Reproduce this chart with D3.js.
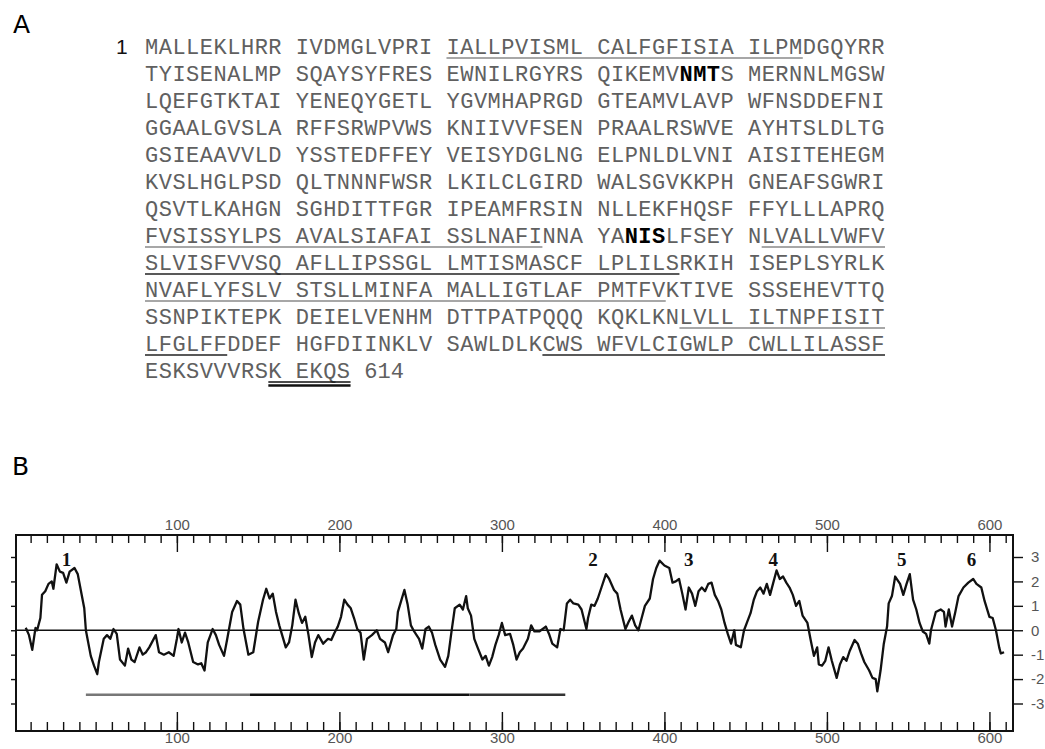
<!DOCTYPE html>
<html>
<head>
<meta charset="utf-8">
<script src="https://cdn.jsdelivr.net/npm/d3@7"></script>
<style>
  body { margin: 0; background: #fff; }
  svg text { font-family: "Liberation Sans", Arial, sans-serif; }
  .seq { font-family: "Liberation Mono", "Courier New", monospace; font-size: 22px; fill: #606060; }
  .seq.bold { font-weight: bold; fill: #000; }
  .axis text { fill: #555; font-size: 15px; }
  .axis line { stroke: #111; stroke-width: 1.4; }
</style>
</head>
<body>
<svg id="fig" width="1045" height="749"></svg>
<script>
// panel A: sequence, 50 residues per row
const seqRows = [
  "MALLEKLHRRIVDMGLVPRIIALLPVISMLCALFGFISIAILPMDGQYRR",
  "TYISENALMPSQAYSYFRESEWNILRGYRSQIKEMVNMTSMERNNLMGSW",
  "LQEFGTKTAIYENEQYGETLYGVMHAPRGDGTEAMVLAVPWFNSDDEFNI",
  "GGAALGVSLARFFSRWPVWSKNIIVVFSENPRAALRSWVEAYHTSLDLTG",
  "GSIEAAVVLDYSSTEDFFEYVEISYDGLNGELPNLDLVNIAISITEHEGM",
  "KVSLHGLPSDQLTNNNFWSRLKILCLGIRDWALSGVKKPHGNEAFSGWRI",
  "QSVTLKAHGNSGHDITTFGRIPEAMFRSINNLLEKFHQSFFFYLLLAPRQ",
  "FVSISSYLPSAVALSIAFAISSLNAFINNAYANISLFSEYNLVALLVWFV",
  "SLVISFVVSQAFLLIPSSGLLMTISMASCFLPLILSRKIHISEPLSYRLK",
  "NVAFLYFSLVSTSLLMINFAMALLIGTLAFPMTFVKTIVESSSEHEVTTQ",
  "SSNPIKTEPKDEIELVENHMDTTPATPQQQKQKLKNLVLLILTNPFISIT",
  "LFGLFFDDEFHGFDIINKLVSAWLDLKCWSWFVLCIGWLPCWLLILASSF",
  "ESKSVVVRSKEKQS"
];
const seqLength = 614;
// [first, last, shade] of underlined stretches
const tmSpans = [
  [21, 44, "#8a8a8a"], [351, 377, "#8a8a8a"], [392, 400, "#8a8a8a"],
  [401, 436, "#222"], [451, 485, "#8a8a8a"], [537, 550, "#8a8a8a"],
  [551, 556, "#222"], [578, 600, "#222"]
];
const glycoSites = [[87, 89], [383, 385]];
const retentionSignal = [610, 614];

// panel B: hydropathy profile
const residueNo = [
  7, 9, 11, 13, 14, 16, 17, 19, 21, 23,
  24, 26, 28, 30, 32, 34, 37, 39, 41, 43,
  44, 47, 49, 51, 52, 55, 57, 59, 61, 63,
  65, 68, 70, 72, 74, 77, 79, 81, 83, 87,
  89, 92, 95, 98, 100, 101, 103, 105, 107, 110,
  113, 115, 117, 119, 122, 124, 126, 129, 131, 134,
  137, 139, 141, 144, 147, 150, 153, 155, 157, 159,
  161, 163, 167, 169, 171, 173, 175, 177, 179, 181,
  183, 185, 187, 190, 193, 195, 197, 199, 201, 203,
  205, 207, 209, 211, 213, 215, 217, 220, 223, 225,
  228, 230, 233, 235, 236, 238, 240, 242, 244, 246,
  249, 251, 253, 255, 257, 259, 262, 265, 267, 269,
  271, 274, 276, 278, 279, 281, 283, 285, 288, 290,
  292, 294, 296, 298, 300, 302, 305, 307, 309, 311,
  313, 316, 318, 320, 323, 327, 329, 331, 334, 336,
  338, 340, 342, 344, 347, 349, 352, 353, 355, 357,
  359, 361, 364, 366, 369, 371, 373, 376, 378, 380,
  382, 384, 386, 388, 391, 393, 395, 397, 400, 403,
  405, 407, 409, 411, 413, 415, 417, 419, 421, 423,
  425, 427, 429, 431, 433, 435, 437, 439, 441, 443,
  444, 447, 449, 451, 453, 455, 457, 459, 461, 463,
  465, 467, 469, 471, 473, 475, 477, 479, 481, 483,
  485, 488, 490, 492, 494, 495, 497, 499, 501, 503,
  506, 508, 510, 512, 514, 517, 519, 521, 523, 526,
  528, 530, 531, 533, 535, 537, 538, 540, 542, 545,
  547, 549, 551, 553, 555, 557, 559, 561, 563, 564,
  567, 570, 572, 573, 575, 577, 579, 581, 584, 587,
  590, 592, 595, 597, 600, 602, 604, 606, 607, 609
];
const hydropathy = [
  0.1, -0.2, -0.8, 0.1, 0, 0.5, 1.45, 1.6, 1.9, 2.0,
  1.7, 2.7, 2.4, 2.35, 1.95, 2.4, 2.55, 2.3, 1.6, 0.9,
  0, -1.05, -1.45, -1.8, -1.3, -0.35, -0.2, -0.35, 0.05, -0.15,
  -1.2, -1.45, -0.75, -1.2, -1.3, -0.7, -1.0, -0.9, -0.7, -0.2,
  -0.9, -1.0, -0.9, -1.05, -0.35, 0.05, -0.5, -0.1, -0.5, -1.3,
  -1.4, -1.35, -1.65, -0.5, 0.05, -0.2, -0.6, -1.05, -0.35, 0.75,
  1.2, 1.05, 0.05, -1.0, -0.9, 0.35, 1.25, 1.7, 1.3, 1.5,
  0.75, 0.2, -0.7, -0.5, 0.2, 1.25, 0.7, 0.3, 0.55, -0.2,
  -1.1, -0.5, -0.2, -0.55, -0.35, -0.4, -0.1, 0.15, 0.55, 1.25,
  1.05, 0.9, 0.5, 0.05, -0.1, -1.2, -0.35, -0.2, 0, -0.35,
  -0.5, -0.9, -0.2, 0.05, 0.75, 1.2, 1.65, 1.05, 0.2, -0.05,
  -0.35, -0.75, 0.05, 0.15, -0.1, -0.6, -1.2, -1.5, -1.05, -0.05,
  0.9, 1.05, 0.85, 1.4, 0.9, 0.6, -0.35, -0.7, -1.2, -1.05,
  -1.45, -1.1, -0.6, -0.2, 0.3, -0.2, -0.15, -0.6, -1.2, -0.9,
  -0.75, -0.35, 0.2, -0.05, -0.05, 0.15, -0.15, -0.55, -0.7, 0.05,
  0, 1.1, 1.25, 1.1, 1.05, 0.85, 0.05, 0.5, 1.05, 1.0,
  1.3, 1.7, 2.3, 2.1, 1.65, 1.5, 0.85, 0.05, 0.35, 0.6,
  0.2, 0, 0.5, 1.0, 1.3, 2.1, 2.55, 2.85, 2.65, 2.55,
  1.95, 2.0, 2.1, 1.5, 0.85, 1.75, 1.5, 1.0, 1.6, 1.75,
  1.6, 1.9, 1.95, 1.45, 1.2, 0.85, 0.3, -0.15, -0.55, 0,
  -0.6, -0.7, 0, 0.35, 0.7, 1.25, 1.6, 1.75, 1.5, 1.9,
  1.45, 1.95, 2.45, 2.1, 2.2, 1.95, 1.75, 1.45, 1.0, 1.2,
  0.6, 0.3, -0.4, -1.05, -0.7, -1.4, -1.45, -1.25, -0.7, -1.25,
  -1.95, -1.4, -1.1, -1.25, -0.85, -0.4, -0.55, -0.95, -1.3, -1.65,
  -1.95, -2.0, -2.5, -1.65, -0.55, 0.15, 1.1, 1.4, 2.2, 1.9,
  1.45, 1.9, 2.3, 1.25, 0.85, 0.3, -0.05, -0.15, -0.55, 0,
  0.75, 0.85, 0.75, 0.15, 0.85, 0.15, 0.75, 1.4, 1.75, 1.95,
  2.1, 1.9, 1.75, 1.2, 0.55, 0.5, 0, -0.7, -0.95, -0.9
];
const peakNames = ["1", "2", "3", "4", "5", "6"];
const peakResidues = [32, 356, 415, 467, 546, 589];
const barSegments = [[44, 145, "#777"], [145, 280, "#111"], [280, 339, "#333"]];
const barLevel = -2.64;
const hydroTicks = [-3, -2, -1, 0, 1, 2, 3];
const residueLabels = [100, 200, 300, 400, 500, 600];

const svg = d3.select("#fig");

// ---------- panel A ----------
const gA = svg.append("g");
gA.append("text").attr("x", 13).attr("y", 33)
  .style("font-family", "'DejaVu Sans', sans-serif").style("font-size", "25px")
  .text("A");

const colX = d3.scaleLinear().domain([0, 54]).range([145, 885]);
const rowY = d3.scaleLinear().domain([0, 12]).range([54, 378]);

function place(res) {
  const i = (res - 1) % 50;
  return { row: Math.floor((res - 1) / 50), col: i + Math.floor(i / 10) };
}
const isGlyco = res => glycoSites.some(([a, b]) => res >= a && res <= b);

const letters = [];
seqRows.forEach((s, r) => {
  s.split("").forEach((ch, i) => {
    const res = r * 50 + i + 1;
    letters.push({ ch, res, ...place(res) });
  });
});

gA.append("text").attr("x", 116).attr("y", rowY(0))
  .style("font-size", "21px").attr("fill", "#111").text("1");

gA.selectAll("text.seq").data(letters).join("text")
  .attr("class", d => isGlyco(d.res) ? "seq bold" : "seq")
  .attr("x", d => colX(d.col))
  .attr("y", d => rowY(d.row))
  .text(d => d.ch);

const endPos = place(seqLength);
gA.append("text").attr("class", "seq")
  .attr("x", colX(endPos.col + 2)).attr("y", rowY(endPos.row))
  .text(seqLength);

// underline pieces, split on row breaks
function pieces(a, b) {
  const out = [];
  let s = a;
  while (s <= b) {
    const rowEnd = Math.min(b, Math.floor((s - 1) / 50) * 50 + 50);
    out.push([place(s), place(rowEnd)]);
    s = rowEnd + 1;
  }
  return out;
}
const ulines = [];
tmSpans.forEach(([a, b, c]) => pieces(a, b).forEach(p => ulines.push({ p, c })));
gA.selectAll("line.ul").data(ulines).join("line")
  .attr("x1", d => colX(d.p[0].col))
  .attr("x2", d => colX(d.p[1].col + 1))
  .attr("y1", d => rowY(d.p[0].row) + 4)
  .attr("y2", d => rowY(d.p[0].row) + 4)
  .attr("stroke", d => d.c).attr("stroke-width", 1.5);

const rs = place(retentionSignal[0]), re = place(retentionSignal[1]);
[4, 7.5].forEach((off, k) => {
  gA.append("line")
    .attr("x1", colX(rs.col)).attr("x2", colX(re.col + 1))
    .attr("y1", rowY(rs.row) + off).attr("y2", rowY(rs.row) + off)
    .attr("stroke", "#111").attr("stroke-width", k ? 2.5 : 1.6);
});

// ---------- panel B ----------
const gB = svg.append("g");
gB.append("text").attr("x", 12).attr("y", 475)
  .style("font-family", "'DejaVu Sans', sans-serif").style("font-size", "25px")
  .text("B");

const plotL = 16, plotR = 1013, plotT = 535, plotB = 731;
const x = d3.scaleLinear().domain([1, 614.5]).range([plotL, plotR]);
const y = d3.scaleLinear().domain([-3, 3]).range([703.5, 557]);

const minor = d3.range(10, 611, 10);

// top: ticks pointing into the frame, labels above
gB.append("g").attr("class", "axis").attr("transform", `translate(0,${plotT})`)
  .call(d3.axisBottom(x).tickValues(minor).tickSize(8).tickFormat(""));
gB.append("g").attr("class", "axis").attr("transform", `translate(0,${plotT})`)
  .call(d3.axisBottom(x).tickValues(residueLabels).tickSize(17).tickFormat(""));
gB.append("g").attr("class", "axis").attr("transform", `translate(0,${plotT - 3})`)
  .call(d3.axisTop(x).tickValues(residueLabels).tickSize(0).tickPadding(2));

// bottom
gB.append("g").attr("class", "axis").attr("transform", `translate(0,${plotB})`)
  .call(d3.axisTop(x).tickValues(minor).tickSize(9).tickFormat(""));
gB.append("g").attr("class", "axis").attr("transform", `translate(0,${plotB})`)
  .call(d3.axisTop(x).tickValues(residueLabels).tickSize(19).tickFormat(""));
gB.append("g").attr("class", "axis").attr("transform", `translate(0,${plotB - 1})`)
  .call(d3.axisBottom(x).tickValues(residueLabels).tickSize(0).tickPadding(2));

// right and left
gB.append("g").attr("class", "axis").attr("transform", `translate(${plotR},0)`)
  .call(d3.axisRight(y).tickValues(hydroTicks).tickSize(10).tickPadding(8)
    .tickFormat(d => String(d)));
gB.append("g").attr("class", "axis").attr("transform", `translate(${plotL},0)`)
  .call(d3.axisLeft(y).tickValues(hydroTicks).tickSize(5).tickFormat(""));

gB.selectAll(".axis .domain").remove();

gB.append("rect")
  .attr("x", plotL).attr("y", plotT)
  .attr("width", plotR - plotL).attr("height", plotB - plotT)
  .attr("fill", "none").attr("stroke", "#111").attr("stroke-width", 2);

gB.append("line")
  .attr("x1", plotL).attr("x2", plotR)
  .attr("y1", y(0)).attr("y2", y(0))
  .attr("stroke", "#111").attr("stroke-width", 1.6);

const pts = residueNo.map((r, i) => [r, hydropathy[i]]);
gB.append("path").datum(pts)
  .attr("d", d3.line().x(d => x(d[0])).y(d => y(d[1])))
  .attr("fill", "none").attr("stroke", "#111")
  .attr("stroke-width", 2.3).attr("stroke-linejoin", "round");

gB.selectAll("line.bar").data(barSegments).join("line")
  .attr("x1", d => x(d[0])).attr("x2", d => x(d[1]))
  .attr("y1", y(barLevel)).attr("y2", y(barLevel))
  .attr("stroke", d => d[2]).attr("stroke-width", 2.5);

gB.selectAll("text.peak").data(peakNames).join("text")
  .attr("x", (d, i) => x(peakResidues[i])).attr("y", 566)
  .attr("text-anchor", "middle")
  .style("font-family", "'Liberation Serif', serif").style("font-weight", "bold")
  .style("font-size", "19px").attr("fill", "#111")
  .text(d => d);
</script>
</body>
</html>
